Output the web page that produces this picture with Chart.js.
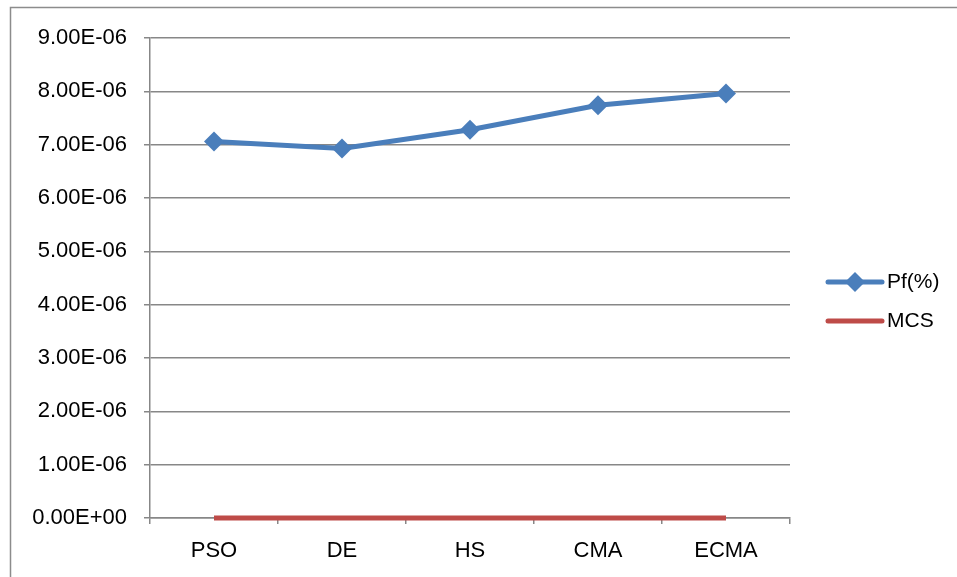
<!DOCTYPE html>
<html>
<head>
<meta charset="utf-8">
<script src="https://cdn.jsdelivr.net/npm/chart.js@4/dist/chart.umd.min.js"></script>
<style>
  html, body { margin: 0; padding: 0; background: #fff; }
  #wrap { position: relative; width: 957px; height: 577px; }
</style>
</head>
<body>
<div id="wrap"><canvas id="chart" width="957" height="577"></canvas></div>
<script>
// Categories and series
const categories = ['PSO', 'DE', 'HS', 'CMA', 'ECMA'];
const pfValues = [7.06e-6, 6.93e-6, 7.28e-6, 7.74e-6, 7.96e-6];
const mcsValues = [0, 0, 0, 0, 0];
const seriesNames = ['Pf(%)', 'MCS'];

const BLUE = '#4A7EBB';
const RED = '#BE4B48';
const GRID = '#878787';
const FONT = '"Liberation Sans", Arial, sans-serif';
const FONT_SIZE = 22;

// Excel-style scientific labels: 9.00E-06, 0.00E+00
function sci(v) {
  const s = Number(v).toExponential(2).toUpperCase();
  const m = s.match(/^(-?[\d.]+)E([+-])(\d+)$/);
  if (!m) return s;
  return m[1] + 'E' + m[2] + m[3].padStart(2, '0');
}

// Frame around the chart (left and top edges are visible)
const framePlugin = {
  id: 'frame',
  beforeDraw(chart) {
    const ctx = chart.ctx;
    ctx.save();
    ctx.strokeStyle = '#8c8c8c';
    ctx.lineWidth = 1.5;
    ctx.beginPath();
    ctx.moveTo(10.5, 600);
    ctx.lineTo(10.5, 7.5);
    ctx.lineTo(960, 7.5);
    ctx.stroke();
    ctx.restore();
  }
};

// Legend on the right: line sample (with marker) and series name
const sideLegend = {
  id: 'sideLegend',
  afterDraw(chart) {
    const ctx = chart.ctx;
    const x0 = 828, x1 = 882, tx = 887;
    const rows = [282, 321];
    ctx.save();
    chart.data.datasets.forEach((ds, i) => {
      const y = rows[i];
      ctx.strokeStyle = ds.borderColor;
      ctx.lineWidth = ds.borderWidth;
      ctx.lineCap = 'round';
      ctx.beginPath();
      ctx.moveTo(x0, y);
      ctx.lineTo(x1, y);
      ctx.stroke();
      if (ds.pointRadius > 0) {
        const r = ds.pointRadius;
        const cx = (x0 + x1) / 2;
        ctx.fillStyle = ds.pointBackgroundColor;
        ctx.beginPath();
        ctx.moveTo(cx, y - r);
        ctx.lineTo(cx + r, y);
        ctx.lineTo(cx, y + r);
        ctx.lineTo(cx - r, y);
        ctx.closePath();
        ctx.fill();
      }
      ctx.fillStyle = '#000';
      ctx.font = (FONT_SIZE - 1) + 'px ' + FONT;
      ctx.textAlign = 'left';
      ctx.textBaseline = 'middle';
      ctx.fillText(ds.label, tx, y);
    });
    ctx.restore();
  }
};

new Chart(document.getElementById('chart'), {
  type: 'line',
  data: {
    labels: categories,
    datasets: [
      {
        label: seriesNames[0],
        data: pfValues,
        borderColor: BLUE,
        backgroundColor: BLUE,
        borderWidth: 5,
        pointStyle: 'rectRot',
        pointRadius: 10,
        pointBackgroundColor: BLUE,
        pointBorderColor: BLUE,
        pointBorderWidth: 0,
        tension: 0,
        clip: false
      },
      {
        label: seriesNames[1],
        data: mcsValues,
        borderColor: RED,
        backgroundColor: RED,
        borderWidth: 5,
        pointRadius: 0,
        pointBackgroundColor: RED,
        tension: 0,
        clip: false
      }
    ]
  },
  options: {
    responsive: false,
    animation: false,
    layout: { padding: { left: 0, top: 38, right: 167, bottom: 0 } },
    plugins: {
      legend: { display: false },
      tooltip: { enabled: false }
    },
    scales: {
      x: {
        offset: true,
        grid: {
          offset: true,
          drawOnChartArea: false,
          drawTicks: true,
          tickLength: 6,
          color: GRID,
          lineWidth: 1.5
        },
        border: { display: true, color: GRID, width: 1.5 },
        ticks: {
          color: '#000',
          font: { family: FONT, size: FONT_SIZE },
          padding: 14,
          maxRotation: 0
        },
        afterFit(scale) { scale.height = 59; }
      },
      y: {
        min: 0,
        max: 9e-6,
        grid: {
          color: GRID,
          lineWidth: 1.5,
          drawTicks: true,
          tickLength: 6
        },
        border: { display: true, color: GRID, width: 1.5 },
        ticks: {
          stepSize: 1e-6,
          color: '#000',
          font: { family: FONT, size: FONT_SIZE },
          padding: 17,
          callback: (v) => sci(v)
        },
        afterFit(scale) { scale.width = 150; }
      }
    }
  },
  plugins: [framePlugin, sideLegend]
});
</script>
</body>
</html>
